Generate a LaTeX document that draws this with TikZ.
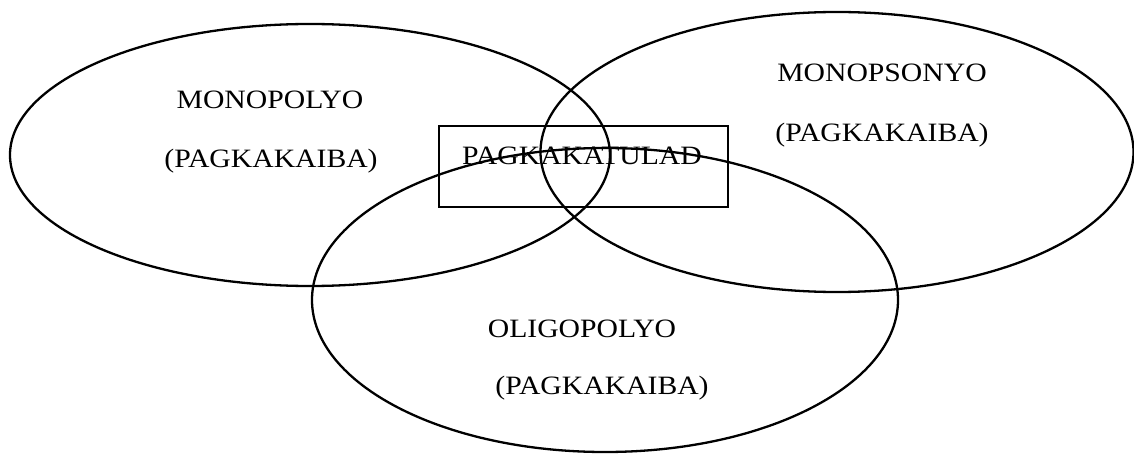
\documentclass[tikz,border=0pt]{standalone}
\usepackage{fontspec}
\setmainfont[FakeStretch=1.12]{Liberation Serif}
\usetikzlibrary{shapes.geometric}
\begin{document}
\begin{tikzpicture}[x=1pt,y=-1pt,
  setring/.style={draw=black, ellipse, line width=2.3pt, inner sep=0pt, outer sep=0pt},
  lbl/.style={anchor=base, inner sep=0pt, font=\fontsize{26.5}{30}\selectfont}]
\clip (0,0) rectangle (1134,454);
\useasboundingbox (0,0) rectangle (1134,454);
\fill[white] (0,0) rectangle (1134,454);
\node[draw=black, line width=1.3pt, minimum width=289pt, minimum height=81pt, inner sep=0pt, outer sep=0pt] (box) at (583.5,166.5) {};
\node[lbl] (same) at (582,165) {PAGKAKATULAD};
\node[setring, minimum width=600pt, minimum height=262pt] (mono) at (310,155) {};
\node[setring, minimum width=593pt, minimum height=280pt] (monops) at (837,152) {};
\node[setring, minimum width=586pt, minimum height=304pt] (oligo) at (605,300) {};
\node[lbl] (t1) at (270,109) {MONOPOLYO};
\node[lbl] (t2) at (271,168) {(PAGKAKAIBA)};
\node[lbl] (t3) at (882,82) {MONOPSONYO};
\node[lbl] (t4) at (882,142) {(PAGKAKAIBA)};
\node[lbl] (t5) at (582,337) {OLIGOPOLYO};
\node[lbl] (t6) at (602,394) {(PAGKAKAIBA)};
\end{tikzpicture}
\end{document}
